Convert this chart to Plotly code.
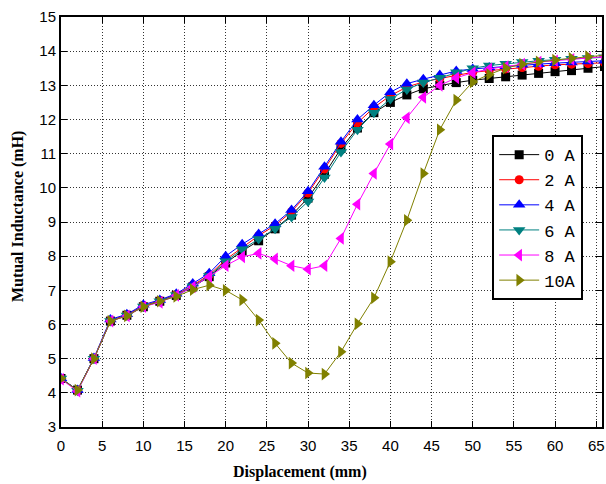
import plotly.graph_objects as go

x_mm = list(range(0, 68, 2))

L_0A = [4.42, 4.08, 5.0, 6.1, 6.27, 6.52, 6.68, 6.85, 7.1, 7.4, 7.8, 8.15, 8.45, 8.8, 9.2, 9.7,
        10.4, 11.15, 11.75, 12.2, 12.5, 12.72, 12.9, 13.0, 13.08, 13.15, 13.2, 13.25, 13.3,
        13.35, 13.4, 13.43, 13.5, 13.55]
L_2A = [4.42, 4.07, 5.0, 6.12, 6.28, 6.55, 6.7, 6.88, 7.15, 7.45, 7.9, 8.25, 8.6, 8.9, 9.3, 9.85,
        10.55, 11.3, 11.9, 12.35, 12.7, 12.95, 13.1, 13.2, 13.3, 13.38, 13.43, 13.48, 13.52,
        13.56, 13.6, 13.62, 13.64, 13.66]
L_4A = [4.43, 4.08, 5.02, 6.15, 6.3, 6.58, 6.72, 6.9, 7.2, 7.5, 8.0, 8.35, 8.65, 8.95, 9.35, 9.9,
        10.62, 11.35, 12.0, 12.42, 12.8, 13.05, 13.18, 13.3, 13.42, 13.48, 13.52, 13.56, 13.6,
        13.62, 13.65, 13.67, 13.7, 13.72]
L_6A = [4.42, 4.06, 5.0, 6.1, 6.26, 6.53, 6.68, 6.86, 7.12, 7.42, 7.85, 8.2, 8.5, 8.8, 9.15, 9.6,
        10.3, 11.05, 11.7, 12.2, 12.6, 12.88, 13.08, 13.22, 13.38, 13.5, 13.58, 13.63, 13.68,
        13.72, 13.75, 13.78, 13.8, 13.82]
L_8A = [4.4, 4.05, 5.0, 6.1, 6.25, 6.52, 6.65, 6.85, 7.1, 7.4, 7.72, 7.98, 8.08, 7.92, 7.72, 7.62,
        7.72, 8.52, 9.52, 10.42, 11.28, 12.05, 12.65, 13.0, 13.22, 13.37, 13.48, 13.55, 13.62,
        13.68, 13.72, 13.76, 13.8, 13.84]
L_10A = [4.42, 4.08, 5.0, 6.1, 6.25, 6.52, 6.68, 6.82, 7.02, 7.15, 7.0, 6.72, 6.13, 5.45, 4.87,
         4.58, 4.55, 5.2, 6.02, 6.78, 7.84, 9.05, 10.42, 11.7, 12.57, 13.1, 13.32, 13.5, 13.62,
         13.69, 13.74, 13.79, 13.84, 13.88]

series_names = ["0 A", "2 A", "4 A", "6 A", "8 A", "10A"]
series_vals = [L_0A, L_2A, L_4A, L_6A, L_8A, L_10A]
colors = ["#000000", "#ff0000", "#0000ff", "#008080", "#ff00ff", "#808000"]
symbols = ["square", "circle", "triangle-up", "triangle-down", "triangle-left", "triangle-right"]
sizes = [9, 9, 11, 11, 11, 11]

x_ticks = list(range(0, 70, 5))
y_ticks = list(range(3, 16))
x_title = "Displacement (mm)"
y_title = "Mutual Inductance (mH)"

fig = go.Figure()
for name, vals, c, s, sz in zip(series_names, series_vals, colors, symbols, sizes):
    fig.add_trace(go.Scatter(
        x=x_mm, y=vals, name=name, mode="lines+markers",
        line=dict(color=c, width=1),
        marker=dict(symbol=s, size=sz, color=c, line=dict(width=0)),
    ))

axis_common = dict(
    showline=True, linecolor="black", linewidth=2, mirror="ticks",
    ticks="inside", ticklen=6, tickcolor="black", tickwidth=1,
    showgrid=True, gridcolor="#333333", gridwidth=1, griddash="1px,2px",
    zeroline=False,
    tickfont=dict(family="Liberation Sans, Arial, sans-serif", size=15, color="black"),
)

fig.update_xaxes(range=[0, 65.7], tickvals=x_ticks, ticklabelstandoff=4, **axis_common)
fig.update_yaxes(range=[3, 15], tickvals=y_ticks, **axis_common)

title_font = dict(family="Liberation Serif, Times New Roman, serif", size=16, color="black")
fig.add_annotation(
    text="<b>" + x_title + "</b>", xref="paper", yref="paper",
    x=0.442, y=-0.11, xanchor="center", yanchor="middle",
    showarrow=False, font=title_font,
)
fig.add_annotation(
    text="<b>" + y_title + "</b>", xref="paper", yref="paper",
    x=-0.079, y=0.515, xanchor="center", yanchor="middle", textangle=-90,
    showarrow=False, font=title_font,
)

fig.update_layout(
    width=606, height=484,
    margin=dict(l=61, r=2, t=17, b=57),
    paper_bgcolor="white", plot_bgcolor="white",
    legend=dict(
        x=0.797, y=0.712, xanchor="left", yanchor="top",
        bgcolor="white", bordercolor="black", borderwidth=2,
        font=dict(family="Liberation Mono, Courier New, monospace", size=17, color="black"),
        tracegroupgap=0, itemwidth=40,
    ),
    showlegend=True,
)

fig.write_html("out.html")
